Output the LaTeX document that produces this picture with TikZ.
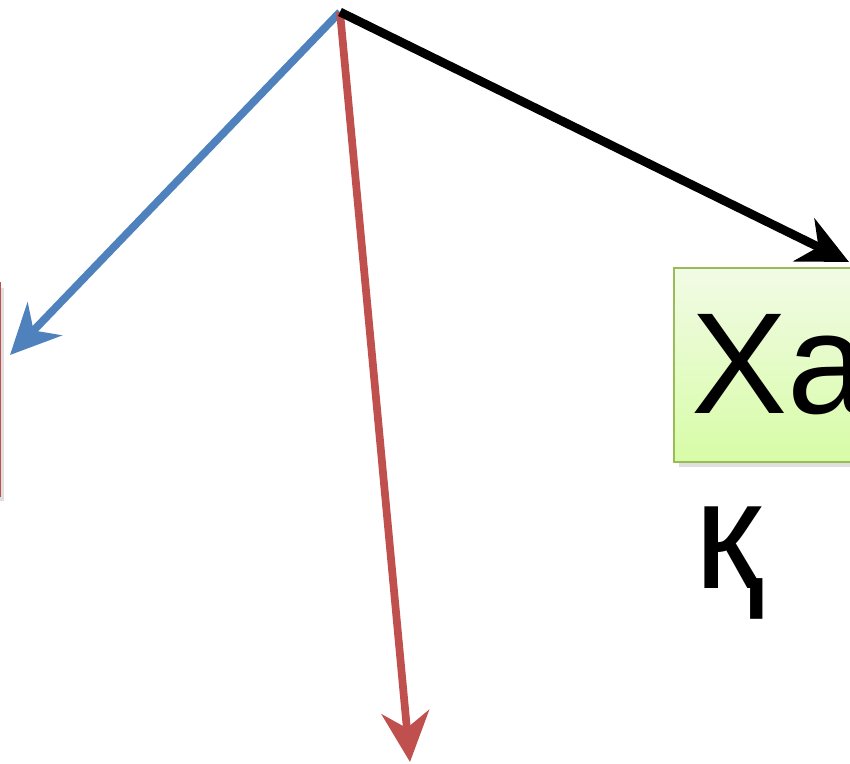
\documentclass[tikz,border=0pt]{standalone}
\usepackage{fontspec}
\setmainfont{Liberation Sans}
\usepackage{tikz}
\usetikzlibrary{arrows.meta,shadows}

\definecolor{lineblue}{HTML}{4F81BD}
\definecolor{linered}{HTML}{C0504D}
\definecolor{boxgreen}{HTML}{9BBB59}
\definecolor{greentop}{HTML}{F2FBE6}
\definecolor{greenbot}{HTML}{D7FCA6}

\tikzset{
  link/.style={line width=4.4pt, -{Stealth[length=1.0cm, width=0.95cm, inset=0.32cm]}},
  bigtext/.style={font=\fontsize{82}{90}\selectfont, inner sep=0pt},
}

\begin{document}
\begin{tikzpicture}[x=0.02cm, y=-0.02cm]
    \useasboundingbox (0,0) rectangle (850,764);
    \clip (0,0) rectangle (850,764);

    % boxes (partly cut off)
    \node[draw=linered, line width=1.4pt, fill=white, anchor=north east,
          minimum width=4cm, minimum height=4.26cm, inner sep=0pt,
          drop shadow={opacity=0.25}] (redbox) at (1,282) {};
    \node[draw=boxgreen, line width=1.2pt, top color=greentop, bottom color=greenbot,
          anchor=north west, minimum width=8cm, minimum height=3.88cm, inner sep=0pt,
          drop shadow={opacity=0.25}] (greenbox) at (673,267) {};
    \node[bigtext, anchor=base west] (xa) at (691,413) {Ха};
    \node[bigtext, anchor=base west, font=\fontsize{88}{96}\selectfont] (ka) at (694,588) {қ};

    \coordinate (top) at (340,12);
    \coordinate (bluetip) at (10,355);
    \coordinate (redtip) at (410,762);
    \coordinate (blacktip) at (849,262);

    % arrows from the top point
    \draw[link, lineblue] (top) -- (bluetip);
    \draw[link, linered] (top) -- (redtip);
    \draw[link, black, line width=5pt] (top) -- (blacktip);
\end{tikzpicture}
\end{document}
